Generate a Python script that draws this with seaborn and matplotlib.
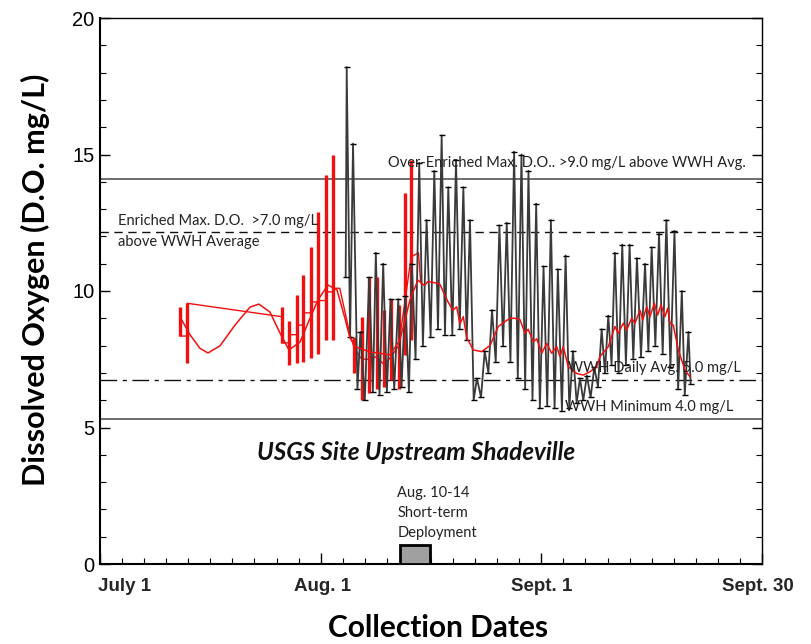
import matplotlib
matplotlib.use("Agg")
import matplotlib.pyplot as plt
import matplotlib.transforms as mtransforms
from matplotlib.ticker import MultipleLocator
import pandas as pd
import seaborn as sns

# ---------------- data (days since July 1) ----------------
# continuous sonde record (black), alternating troughs / peaks
black_day = [33.4, 33.54, 34.0, 34.4, 35.0, 35.4, 36.0, 36.6, 37.1, 37.5, 38.0, 38.5,
             39.0, 39.5, 40.0, 40.55, 41.0, 41.5, 42.0, 42.4, 42.9, 43.4, 43.9, 44.4,
             44.95, 45.45, 45.95, 46.45, 46.9, 47.35, 47.9, 48.4, 48.9, 49.4, 49.85, 50.3,
             50.8, 51.25, 51.8, 52.3, 52.8, 53.3, 53.8, 54.3, 54.8, 55.3, 55.8, 56.3,
             56.8, 57.3, 57.8, 58.25, 58.8, 59.3, 59.8, 60.3, 60.8, 61.3, 61.8, 62.25,
             62.8, 63.3, 63.8, 64.3, 64.8, 65.25, 65.7, 66.2, 66.7, 67.2, 67.7, 68.2,
             68.65, 69.1, 69.55, 70.0, 70.5, 71.0, 71.5, 72.0, 72.5, 73.0, 73.55, 74.1,
             74.55, 75.0, 75.5, 76.0, 76.5, 77.0, 77.55, 78.1, 78.6, 79.1, 79.5, 80.0, 80.3]
black_do = [10.5, 18.2, 8.3, 15.4, 6.4, 8.5, 6.0, 10.5, 6.3, 11.4, 6.2, 11.0,
            6.3, 9.7, 6.4, 9.7, 6.5, 9.8, 6.3, 11.0, 7.5, 14.7, 8.0, 12.6,
            8.3, 14.4, 8.6, 15.7, 8.4, 13.8, 8.4, 14.8, 8.6, 13.8, 8.2, 12.6,
            6.0, 6.8, 6.1, 7.8, 7.0, 9.3, 7.4, 12.4, 8.0, 12.5, 7.4, 15.1,
            6.8, 15.0, 6.4, 14.4, 6.0, 13.2, 5.7, 10.9, 5.8, 12.6, 5.7, 10.8,
            5.6, 11.3, 5.7, 7.8, 5.9, 6.8, 6.0, 6.9, 6.1, 7.2, 6.5, 8.6,
            7.0, 9.1, 7.3, 11.4, 7.0, 11.7, 7.3, 11.7, 7.5, 11.2, 7.6, 11.0,
            7.8, 11.6, 8.0, 12.1, 7.7, 12.6, 7.2, 12.2, 6.4, 10.0, 6.2, 8.5, 6.6]

# spot readings (red vertical bars)
bar_day = [10.88, 11.87, 24.7, 25.73, 26.74, 27.64, 28.68, 29.68, 30.68, 31.63,
           34.57, 35.58, 36.61, 37.62, 38.6, 39.6, 40.6, 41.4, 42.3]
bar_low = [8.35, 7.35, 8.1, 7.3, 7.35, 7.4, 7.55, 7.7, 8.2, 8.2,
           7.0, 6.0, 6.25, 6.4, 6.5, 6.75, 6.4, 7.65, 8.2]
bar_high = [9.4, 9.55, 9.4, 8.9, 9.85, 10.6, 11.6, 12.9, 14.25, 15.0,
            8.3, 9.05, 10.5, 10.5, 9.3, 9.7, 9.5, 13.6, 14.8]

# daily average curve (red)
avg_day = [10.88, 12.23, 13.59, 14.68, 16.31, 18.35, 20.39, 21.6, 23.1, 24.47, 25.69,
           27.19, 28.55, 29.63, 30.99, 32.22, 33.3, 33.98, 34.8, 36.7, 39.42, 40.78,
           42.14, 43.23, 44.1, 44.6, 45.54, 46.2, 47.31, 47.99, 48.49, 48.94, 49.39,
           49.85, 50.75, 51.89, 53.02, 54.15, 55.06, 55.74, 56.42, 57.1, 57.78, 58.22,
           58.9, 59.37, 60.05, 60.73, 61.4, 62.09, 62.53, 62.98, 63.66, 64.8, 65.7,
           66.61, 67.52, 67.97, 69.1, 70.01, 70.46, 71.14, 71.6, 72.28, 72.73, 73.41,
           73.78, 74.32, 74.77, 75.35, 75.82, 76.26, 76.81, 77.18, 77.49, 77.94, 78.62,
           79.53, 80.2]
avg_do = [9.05, 8.4, 7.9, 7.73, 7.99, 8.75, 9.41, 9.52, 9.23, 8.46, 7.84,
          8.13, 9.0, 9.67, 10.22, 10.04, 9.0, 8.28, 7.95, 7.77, 7.66, 8.2,
          9.67, 10.4, 10.2, 10.35, 10.3, 10.25, 9.6, 9.3, 9.42, 8.8, 9.06,
          8.3, 7.84, 7.78, 8.0, 8.7, 8.88, 9.0, 9.0, 8.95, 8.45, 8.6,
          8.14, 8.25, 7.72, 8.08, 7.72, 7.96, 7.6, 7.96, 7.23, 6.98, 6.92,
          7.04, 7.23, 7.6, 7.96, 8.7, 8.45, 8.82, 8.57, 9.0, 8.82, 9.3,
          8.94, 9.42, 9.06, 9.55, 9.12, 9.49, 9.06, 9.37, 8.82, 8.75, 7.84,
          7.1, 6.86]

# connecting line between spot readings (red)
link_day = [10.88, 11.87, 11.87, 24.7, 24.7, 25.73, 25.73, 26.74, 26.74, 27.64, 27.64,
            28.68, 28.68, 29.68, 29.68, 30.68, 30.68, 31.63, 31.63, 32.6, 33.9, 34.57,
            35.58, 36.61, 37.62, 38.6, 39.6, 40.6, 41.4, 42.3, 43.3, 43.6]
link_do = [8.35, 8.35, 9.55, 9.06, 8.1, 8.1, 8.4, 8.4, 8.75, 8.75, 9.2,
           9.2, 9.6, 9.6, 9.65, 9.65, 9.97, 9.97, 10.1, 10.1, 8.5, 7.9,
           7.5, 7.5, 7.6, 7.3, 7.6, 8.0, 9.5, 11.25, 11.4, 10.3]

# reference levels
ref_levels = [14.1, 12.15, 6.75, 5.3]
ref_styles = ["solid", "dashed", "dashdot", "solid"]
ref_colors = ["#555555", "#111111", "#111111", "#555555"]

# short-term deployment window
dep_start, dep_end, dep_height = 40.8, 44.9, 0.7

# x axis labels
xlab_pos = [3.3, 30.3, 60.0, 89.5]
xlab_txt = ["July 1", "Aug. 1", "Sept. 1", "Sept. 30"]

# ---------------- plotting ----------------
sns.set_theme(style="white")
plt.rcParams["font.family"] = ["Lato", "DejaVu Sans"]

fig = plt.figure(figsize=(8.12, 6.44), dpi=100)
ax = fig.add_axes([100 / 812, 80 / 644, 662 / 812, 546 / 644])
ax.set_xlim(0, 90)
ax.set_ylim(0, 20)

# reference lines
for lvl, ls, c in zip(ref_levels, ref_styles, ref_colors):
    if ls == "dashed":
        ax.axhline(lvl, color=c, lw=1.0, dashes=(6, 4))
    elif ls == "dashdot":
        ax.axhline(lvl, color=c, lw=1.0, dashes=(12, 4, 3, 4))
    else:
        ax.axhline(lvl, color=c, lw=1.2)

# deployment box
ax.bar([(dep_start + dep_end) / 2], [dep_height], width=dep_end - dep_start,
       color="#a0a0a0", edgecolor="black", linewidth=2.0, zorder=3)

red = "#f01010"
# red spot-reading bars
ax.vlines(bar_day, bar_low, bar_high, colors=red, lw=2.4, zorder=4)

df_link = pd.DataFrame({"day": link_day, "do": link_do})
sns.lineplot(data=df_link, x="day", y="do", sort=False, estimator=None,
             color=red, lw=1.0, ax=ax, zorder=4)

# black continuous record
df_black = pd.DataFrame({"day": black_day, "do": black_do})
sns.lineplot(data=df_black, x="day", y="do", sort=False, estimator=None,
             color="#3a3a3a", lw=1.3, marker="_", markersize=4,
             markeredgecolor="black", markeredgewidth=1.0, ax=ax, zorder=5)

# red daily average
df_avg = pd.DataFrame({"day": avg_day, "do": avg_do})
sns.lineplot(data=df_avg, x="day", y="do", sort=False, estimator=None,
             color=red, lw=1.1, ax=ax, zorder=6)

# ticks
ax.xaxis.set_major_locator(MultipleLocator(30))
ax.xaxis.set_minor_locator(MultipleLocator(3))
ax.yaxis.set_major_locator(MultipleLocator(5))
ax.yaxis.set_minor_locator(MultipleLocator(1))
ax.tick_params(axis="both", which="both", direction="in", left=True, right=True,
               bottom=True, top=False, color="black")
ax.tick_params(axis="x", which="major", length=8, width=1.0, labelbottom=False)
ax.tick_params(axis="x", which="minor", length=4, width=0.8)
ax.tick_params(axis="y", which="major", length=7, width=1.0, pad=4,
               labelsize=14.5, labelcolor="black")
ax.tick_params(axis="y", which="minor", length=4, width=0.8)
for lab in ax.get_yticklabels():
    lab.set_fontfamily(["Liberation Sans", "DejaVu Sans"])
ax.set_xlabel("")
ax.set_ylabel("")

for sp in ax.spines.values():
    sp.set_color("black")
    sp.set_linewidth(1.0)
ax.spines["bottom"].set_linewidth(1.5)
ax.spines["left"].set_linewidth(1.5)

trans = mtransforms.blended_transform_factory(ax.transData, ax.transAxes)
for xp, t in zip(xlab_pos, xlab_txt):
    ax.text(xp, -0.042, t, transform=trans, ha="center", va="center",
            fontsize=13.5, fontweight="bold", family=["Liberation Sans", "DejaVu Sans"],
            clip_on=False)

# annotations
txt_kw = dict(fontsize=10.5, color="#222222", zorder=7)
ax.text(39.15, 14.69, "Over-Enriched Max. D.O.. >9.0 mg/L above WWH Avg.",
        ha="left", va="center", **txt_kw)
ax.text(2.45, 12.56, "Enriched Max. D.O.  >7.0 mg/L", ha="left", va="center", **txt_kw)
ax.text(2.45, 11.8, "above WWH Average", ha="left", va="center", **txt_kw)
ax.text(63.6, 7.18, "WWH Daily Avg. 5.0 mg/L", ha="left", va="center", **txt_kw)
ax.text(63.2, 5.76, "WWH Minimum 4.0 mg/L", ha="left", va="center", **txt_kw)
ax.text(43.0, 4.1, "USGS Site Upstream Shadeville", ha="center", va="center",
        fontsize=17.5, fontweight="bold", style="italic", color="#111111")
ax.text(40.4, 2.6, "Aug. 10-14", ha="left", va="center", **txt_kw)
ax.text(40.4, 1.88, "Short-term", ha="left", va="center", **txt_kw)
ax.text(40.4, 1.14, "Deployment", ha="left", va="center", **txt_kw)

fig.text(35 / 812, 1 - 280 / 644, "Dissolved Oxygen (D.O. mg/L)", rotation=90,
         ha="center", va="center", fontsize=22, fontweight="bold", color="black")
fig.text(438 / 812, 1 - 628 / 644, "Collection Dates", ha="center", va="center",
         fontsize=21.5, fontweight="bold", color="black")

fig.savefig("out.png", dpi=100)
